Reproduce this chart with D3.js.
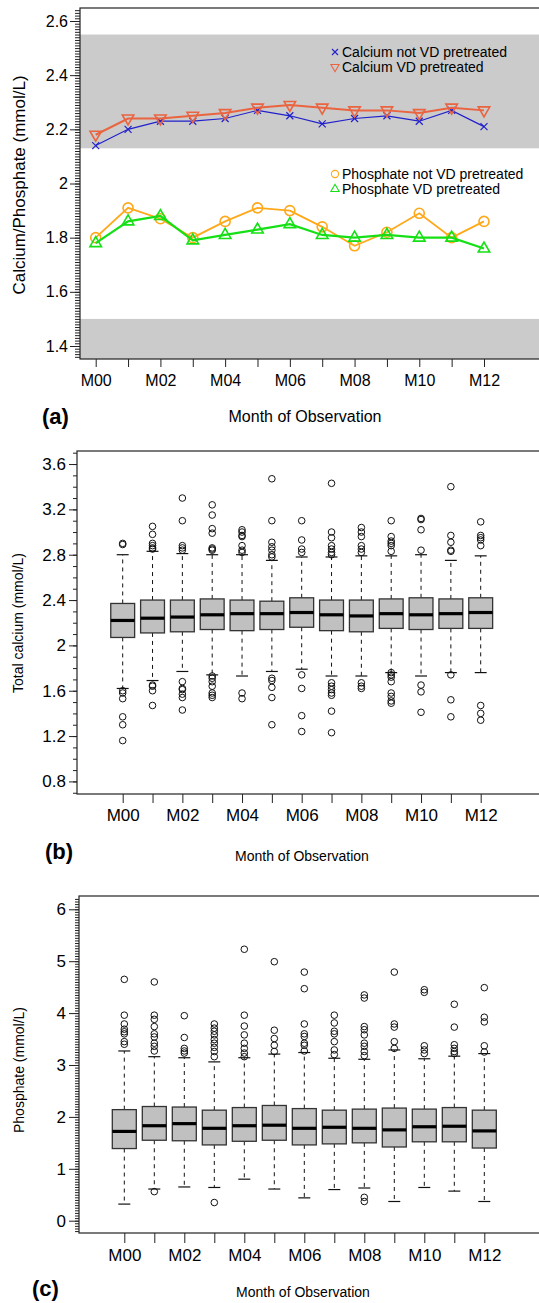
<!DOCTYPE html>
<html>
<head>
<meta charset="utf-8">
<script src="https://cdn.jsdelivr.net/npm/d3@7"></script>
<style>
  body { margin: 0; background: #fff; }
  svg { display: block; font-family: "Liberation Sans", Arial, Helvetica, sans-serif; }
</style>
</head>
<body>
<script>
// months
const months = ['M00','M01','M02','M03','M04','M05','M06','M07','M08','M09','M10','M11','M12']

// panel (a) means
const caNotVD = [2.14, 2.20, 2.23, 2.23, 2.24, 2.27, 2.25, 2.22, 2.24, 2.25, 2.23, 2.27, 2.21]
const caVD    = [2.18, 2.24, 2.24, 2.25, 2.26, 2.28, 2.29, 2.28, 2.27, 2.27, 2.26, 2.28, 2.27]
const phNotVD = [1.80, 1.91, 1.87, 1.80, 1.86, 1.91, 1.90, 1.84, 1.77, 1.82, 1.89, 1.80, 1.86]
const phVD    = [1.78, 1.86, 1.88, 1.79, 1.81, 1.83, 1.85, 1.81, 1.80, 1.81, 1.80, 1.80, 1.76]
const caRange = [2.13, 2.55]
const phRange = [1.35, 1.50]
const ticksA = [1.4, 1.6, 1.8, 2.0, 2.2, 2.4, 2.6]

// panel (b) total calcium boxplots
const caQ1  = [2.07, 2.11, 2.12, 2.14, 2.13, 2.14, 2.16, 2.13, 2.12, 2.15, 2.14, 2.15, 2.15]
const caMed = [2.22, 2.24, 2.25, 2.27, 2.28, 2.28, 2.29, 2.27, 2.26, 2.28, 2.27, 2.28, 2.29]
const caQ3  = [2.37, 2.40, 2.40, 2.41, 2.40, 2.39, 2.42, 2.40, 2.40, 2.41, 2.42, 2.41, 2.42]
const caLo  = [1.62, 1.69, 1.77, 1.74, 1.73, 1.77, 1.79, 1.73, 1.73, 1.76, 1.73, 1.76, 1.76]
const caHi  = [2.80, 2.83, 2.81, 2.80, 2.80, 2.75, 2.78, 2.78, 2.79, 2.79, 2.80, 2.75, 2.79]
const caOut = [
  [2.90, 2.89, 1.60, 1.58, 1.53, 1.37, 1.30, 1.16],
  [3.05, 2.98, 2.90, 2.88, 2.86, 2.85, 1.65, 1.64, 1.60, 1.47],
  [3.30, 3.10, 2.88, 2.86, 2.84, 1.68, 1.62, 1.61, 1.57, 1.54, 1.43],
  [3.24, 3.15, 3.03, 2.99, 2.86, 2.85, 2.84, 1.73, 1.71, 1.68, 1.64, 1.58, 1.56, 1.54],
  [3.02, 3.00, 2.97, 2.96, 2.88, 2.84, 2.82, 1.58, 1.53],
  [3.47, 3.10, 2.91, 2.87, 2.84, 2.80, 2.78, 1.71, 1.69, 1.63, 1.54, 1.30],
  [3.10, 2.93, 2.85, 2.82, 1.74, 1.62, 1.38, 1.24],
  [3.43, 3.00, 2.95, 2.88, 2.85, 2.82, 2.80, 1.67, 1.64, 1.61, 1.58, 1.56, 1.42, 1.23],
  [3.04, 3.00, 2.96, 2.88, 2.85, 2.82, 1.67, 1.64, 1.62],
  [3.10, 2.96, 2.92, 2.90, 2.88, 2.83, 1.76, 1.74, 1.72, 1.68, 1.58, 1.55, 1.51, 1.49],
  [3.12, 3.11, 3.02, 2.84, 1.65, 1.59, 1.41],
  [3.40, 2.97, 2.91, 2.84, 2.83, 1.74, 1.52, 1.37],
  [3.09, 2.97, 2.95, 2.93, 2.88, 1.47, 1.40, 1.34]
]
const ticksB = [0.8, 1.2, 1.6, 2.0, 2.4, 2.8, 3.2, 3.6]

// panel (c) phosphate boxplots
const phQ1  = [1.39, 1.55, 1.54, 1.46, 1.53, 1.55, 1.46, 1.48, 1.50, 1.42, 1.52, 1.52, 1.40]
const phMed = [1.72, 1.83, 1.87, 1.78, 1.83, 1.84, 1.78, 1.80, 1.78, 1.75, 1.81, 1.82, 1.73]
const phQ3  = [2.14, 2.20, 2.19, 2.13, 2.18, 2.22, 2.16, 2.13, 2.15, 2.17, 2.15, 2.18, 2.13]
const phLo  = [0.32, 0.61, 0.65, 0.64, 0.80, 0.61, 0.44, 0.60, 0.63, 0.37, 0.64, 0.57, 0.37]
const phHi  = [3.27, 3.16, 3.14, 3.06, 3.14, 3.21, 3.24, 3.13, 3.11, 3.29, 3.12, 3.17, 3.22]
const phOut = [
  [4.65, 3.96, 3.79, 3.69, 3.64, 3.60, 3.45, 3.40],
  [4.60, 3.96, 3.88, 3.74, 3.60, 3.54, 3.42, 3.36, 3.27, 0.56],
  [3.95, 3.53, 3.32, 3.27, 3.23],
  [3.79, 3.71, 3.65, 3.58, 3.49, 3.42, 3.34, 3.26, 3.16, 0.35],
  [5.23, 3.96, 3.75, 3.58, 3.42, 3.32, 3.23, 3.16],
  [4.99, 3.67, 3.51, 3.38, 3.26],
  [4.79, 4.47, 3.79, 3.60, 3.55, 3.42, 3.38, 3.27],
  [3.96, 3.81, 3.65, 3.60, 3.45, 3.29, 3.20],
  [4.35, 4.29, 3.74, 3.68, 3.58, 3.42, 3.36, 3.26, 3.18, 0.45, 0.37],
  [4.79, 3.79, 3.73, 3.45, 3.32],
  [4.45, 4.40, 3.37, 3.29, 3.22],
  [4.17, 3.73, 3.39, 3.32, 3.26, 3.22],
  [4.49, 3.92, 3.83, 3.37, 3.25]
]
const ticksC = [0, 1, 2, 3, 4, 5, 6]

const W = 539, H = 1303
const svg = d3.select('body').append('svg')
    .attr('width', W)
    .attr('height', H)

const fmt = d3.format('~g')
const idx = d3.range(months.length)

// draws the left axis (major + minor ticks) and the bottom month axis
function drawAxes(g, x, y, left, bottom, major, minor, opt) {
    let yMinor = g.append('g')
        .attr('transform', `translate(${left},0)`)
        .call(d3.axisLeft(y).tickValues(minor).tickSize(opt.minorLen).tickFormat(''))
    yMinor.select('.domain').remove()

    let yMajor = g.append('g')
        .attr('transform', `translate(${left},0)`)
        .call(d3.axisLeft(y).tickValues(major).tickSize(opt.majorLen).tickPadding(opt.yPad).tickFormat(fmt))
    yMajor.select('.domain').remove()
    yMajor.selectAll('text').attr('font-size', opt.tickFont).attr('fill', '#000')

    let xAx = g.append('g')
        .attr('transform', `translate(0,${bottom})`)
        .call(d3.axisBottom(x).tickValues(idx).tickSize(opt.xLen).tickPadding(opt.xPad)
            .tickFormat(i => i % 2 === 0 ? months[i] : ''))
    xAx.select('.domain').remove()
    xAx.selectAll('text').attr('font-size', opt.tickFont).attr('fill', '#000')

    g.selectAll('.tick line').attr('stroke', '#222')
}

// ---------- panel (a) ----------
const gA = svg.append('g')
const aL = 80, aT = 8, aB = 359, aR = 580
const xA = d3.scaleLinear().domain([0, 12]).range([95.7, 484])
const yA = d3.scaleLinear().domain([1.352, 2.648]).range([aB, aT])

gA.append('rect')
    .attr('x', aL).attr('width', aR - aL)
    .attr('y', yA(caRange[1])).attr('height', yA(caRange[0]) - yA(caRange[1]))
    .attr('fill', '#cbcbcb')
gA.append('rect')
    .attr('x', aL).attr('width', aR - aL)
    .attr('y', yA(phRange[1])).attr('height', aB - yA(phRange[1]))
    .attr('fill', '#cbcbcb')

gA.append('rect')
    .attr('x', aL).attr('y', aT).attr('width', aR - aL).attr('height', aB - aT)
    .attr('fill', 'none').attr('stroke', '#222').attr('stroke-width', 1.2)

drawAxes(gA, xA, yA, aL, aB, ticksA, d3.range(1.36, 2.645, 0.01),
    {minorLen: 5, majorLen: 10, yPad: 2, tickFont: 16, xLen: 8, xPad: 8})

const line = (ys) => d3.line().x((d, i) => xA(i)).y(d => yA(d))(ys)

const series = [
    {v: caNotVD, color: '#2020cc', w: 1.2, shape: 'x'},
    {v: caVD, color: '#ea6440', w: 2, shape: 'down'},
    {v: phNotVD, color: '#ffa81a', w: 1.8, shape: 'circle'},
    {v: phVD, color: '#15e015', w: 2.2, shape: 'up'}
]

function marker(sel, shape, color, s, w) {
    if (shape === 'x') {
        sel.append('path').attr('d', `M${-s},${-s}L${s},${s}M${-s},${s}L${s},${-s}`)
            .attr('stroke', color).attr('stroke-width', w).attr('fill', 'none')
    } else if (shape === 'circle') {
        sel.append('circle').attr('r', s).attr('stroke', color).attr('stroke-width', w).attr('fill', 'none')
    } else if (shape === 'down') {
        sel.append('path').attr('d', `M${-s * 1.15},${-s * 0.7}L${s * 1.15},${-s * 0.7}L0,${s * 1.3}Z`)
            .attr('stroke', color).attr('stroke-width', w).attr('fill', 'none')
    } else {
        sel.append('path').attr('d', `M${-s * 1.15},${s * 0.7}L${s * 1.15},${s * 0.7}L0,${-s * 1.3}Z`)
            .attr('stroke', color).attr('stroke-width', w).attr('fill', 'none')
    }
}

series.forEach(s => {
    gA.append('path').attr('d', line(s.v))
        .attr('fill', 'none').attr('stroke', s.color).attr('stroke-width', s.w)
    s.v.forEach((d, i) => {
        let m = gA.append('g').attr('transform', `translate(${xA(i)},${yA(d)})`)
        marker(m, s.shape, s.color, s.shape === 'x' ? 3.5 : 5, s.shape === 'x' ? 1.2 : 1.6)
    })
})

// legends
const legA = [
    {t: 'Calcium not VD pretreated', y: 52, s: series[0]},
    {t: 'Calcium VD pretreated', y: 67, s: series[1]},
    {t: 'Phosphate not VD pretreated', y: 174, s: series[2]},
    {t: 'Phosphate VD pretreated', y: 189, s: series[3]}
]
legA.forEach(l => {
    let m = gA.append('g').attr('transform', `translate(335,${l.y})`)
    marker(m, l.s.shape, l.s.color, l.s.shape === 'x' ? 3 : 3.6, 1.1)
    gA.append('text').attr('x', 342).attr('y', l.y).attr('dy', '0.36em')
        .attr('font-size', 14).text(l.t)
})

gA.append('text').attr('transform', 'translate(25,185) rotate(-90)')
    .attr('text-anchor', 'middle').attr('font-size', 17).text('Calcium/Phosphate (mmol/L)')
gA.append('text').attr('x', 305).attr('y', 422).attr('text-anchor', 'middle')
    .attr('font-size', 16).text('Month of Observation')
gA.append('text').attr('x', 42).attr('y', 424).attr('font-size', 22)
    .attr('font-weight', 'bold').text('(a)')

// ---------- boxplot panels ----------
function boxPanel(opt) {
    const g = svg.append('g')
    const x = d3.scaleLinear().domain([0, 12]).range(opt.xr)
    const y = d3.scaleLinear().domain(opt.yd).range([opt.B, opt.T])
    const bw = (opt.xr[1] - opt.xr[0]) / 12 * 0.8

    g.append('rect')
        .attr('x', opt.L).attr('y', opt.T).attr('width', 580 - opt.L).attr('height', opt.B - opt.T)
        .attr('fill', 'none').attr('stroke', '#222').attr('stroke-width', 1.2)

    drawAxes(g, x, y, opt.L, opt.B, opt.major, opt.minor,
        {minorLen: opt.minorLen, majorLen: opt.majorLen, yPad: 3, tickFont: 17, xLen: opt.xLen, xPad: 6})

    idx.forEach(i => {
        const cx = x(i)
        // whiskers
        g.append('line').attr('x1', cx).attr('x2', cx).attr('y1', y(opt.q3[i])).attr('y2', y(opt.hi[i]))
            .attr('stroke', '#111').attr('stroke-dasharray', '4,4')
        g.append('line').attr('x1', cx).attr('x2', cx).attr('y1', y(opt.q1[i])).attr('y2', y(opt.lo[i]))
            .attr('stroke', '#111').attr('stroke-dasharray', '4,4')
        g.append('line').attr('x1', cx - bw / 4).attr('x2', cx + bw / 4).attr('y1', y(opt.hi[i])).attr('y2', y(opt.hi[i]))
            .attr('stroke', '#111').attr('stroke-width', 1.2)
        g.append('line').attr('x1', cx - bw / 4).attr('x2', cx + bw / 4).attr('y1', y(opt.lo[i])).attr('y2', y(opt.lo[i]))
            .attr('stroke', '#111').attr('stroke-width', 1.2)
        // box
        g.append('rect').attr('x', cx - bw / 2).attr('width', bw)
            .attr('y', y(opt.q3[i])).attr('height', y(opt.q1[i]) - y(opt.q3[i]))
            .attr('fill', '#c0c0c0').attr('stroke', '#333').attr('stroke-width', 1.3)
        g.append('line').attr('x1', cx - bw / 2).attr('x2', cx + bw / 2)
            .attr('y1', y(opt.med[i])).attr('y2', y(opt.med[i]))
            .attr('stroke', '#000').attr('stroke-width', 3.2)
        // outliers
        g.selectAll(null).data(opt.out[i]).enter().append('circle')
            .attr('cx', cx).attr('cy', d => y(d)).attr('r', 3.3)
            .attr('fill', 'none').attr('stroke', '#111').attr('stroke-width', 1)
    })

    g.append('text').attr('transform', `translate(${opt.yTitleX},${opt.yTitleY}) rotate(-90)`)
        .attr('text-anchor', 'middle').attr('font-size', 14).text(opt.yTitle)
    g.append('text').attr('x', opt.xTitleX).attr('y', opt.xTitleY).attr('text-anchor', 'middle')
        .attr('font-size', 14).text('Month of Observation')
    g.append('text').attr('x', opt.labX).attr('y', opt.labY).attr('font-size', 22)
        .attr('font-weight', 'bold').text(opt.lab)
}

boxPanel({
    L: 77, T: 451, B: 794, xr: [122.7, 480.7], yd: [0.689, 3.715],
    major: ticksB, minor: d3.range(0.7, 3.71, 0.1), minorLen: 4, majorLen: 8, xLen: 9,
    q1: caQ1, med: caMed, q3: caQ3, lo: caLo, hi: caHi, out: caOut,
    yTitle: 'Total calcium (mmol/L)', yTitleX: 23, yTitleY: 623,
    xTitleX: 302, xTitleY: 861, lab: '(b)', labX: 45, labY: 859
})

boxPanel({
    L: 79, T: 896, B: 1233, xr: [124.3, 484.3], yd: [-0.237, 6.256],
    major: ticksC, minor: d3.range(-0.2, 6.25, 0.05), minorLen: 4, majorLen: 10, xLen: 10,
    q1: phQ1, med: phMed, q3: phQ3, lo: phLo, hi: phHi, out: phOut,
    yTitle: 'Phosphate (mmol/L)', yTitleX: 24, yTitleY: 1070,
    xTitleX: 303, xTitleY: 1297, lab: '(c)', labX: 32, labY: 1296
})
</script>
</body>
</html>
